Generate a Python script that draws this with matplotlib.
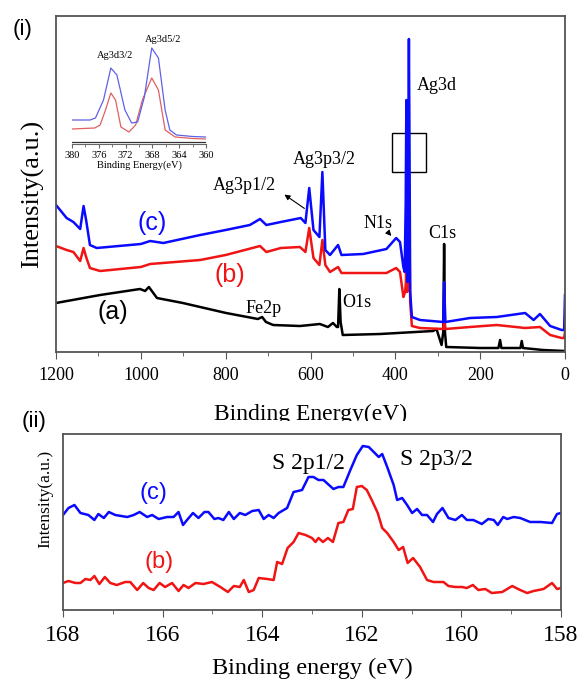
import numpy as np
import matplotlib.pyplot as plt
from matplotlib.patches import Rectangle
from matplotlib.ticker import MultipleLocator

SERIF = ["Liberation Serif", "DejaVu Serif"]
SANS = ["Liberation Sans", "DejaVu Sans"]

# ---- (i) survey spectra: binding energy (eV) / intensity (a.u.) ----
a_be = [1200, 1096, 1002, 990, 981, 962, 901, 799, 724, 714, 705, 688, 625, 601,
        578, 559, 547, 538, 535, 532, 529, 524, 436, 311, 303, 291, 287, 285, 283,
        280, 200, 157, 153, 150, 105, 102, 99, 52, 0]
a_int = [49, 57, 63, 61, 65, 54, 49, 39, 33, 35, 30, 27, 26, 27,
         28, 25, 29, 25, 25, 63, 30, 17, 18, 21, 23, 7, 20, 108, 20,
         5, 4, 4, 12, 4, 4, 11, 4, 2, 1]

b_be = [1200, 1175, 1159, 1143, 1135, 1129, 1120, 1096, 1000, 978, 860, 800,
        719, 704, 670, 625, 612, 603, 593, 579, 572, 565, 554, 535, 527, 421,
        398, 389, 381, 377, 375, 374, 372, 368, 365, 361, 342, 287, 285, 282,
        224, 161, 94, 59, 35, 8, 2, 0]
b_int = [106, 102, 100, 91, 104, 95, 84, 81, 85, 88, 92, 97,
         106, 100, 104, 105, 100, 124, 94, 87, 112, 87, 80, 85, 79, 79,
         84, 80, 55, 60, 70, 120, 60, 180, 50, 26, 24, 23, 32, 23,
         25, 27, 24, 25, 17, 14, 14, 20]

c_be = [1200, 1175, 1159, 1143, 1135, 1129, 1120, 1104, 1000, 978, 947, 860,
        800, 743, 719, 704, 670, 623, 612, 603, 593, 579, 572, 565, 554, 535,
        527, 476, 421, 398, 389, 381, 378, 375.5, 374, 372.5, 371, 369.5, 368,
        366.5, 365, 361, 342, 287, 285, 282, 224, 161, 94, 74, 59, 35, 8, 2, 0]
c_int = [147, 134, 130, 123, 146, 132, 107, 104, 108, 111, 109, 117,
         122, 127, 133, 127, 130, 134, 129, 164, 122, 115, 180, 102, 97, 107,
         97, 98, 103, 114, 110, 85, 80, 150, 252, 150, 70, 200, 313,
         200, 60, 35, 32, 30, 70, 30, 34, 35, 39, 32, 38, 26, 22, 22, 57]

# ---- inset: Ag 3d ----
in_c_be = [380, 377.3, 376.5, 375.3, 374.2, 373.3, 372.1, 371.1, 370.2, 369.2,
           368.1, 367.1, 366.1, 365.4, 364.4, 362, 360]
in_c_int = [24, 24, 26, 44, 76, 69, 34, 21, 22, 47, 96, 86, 34, 14, 9, 7.5, 7]
in_b_be = [380, 376.6, 375.8, 375, 374.2, 373.5, 372.7, 371.5, 370.5, 369.5,
           368.1, 367.1, 366.1, 364.6, 362, 360]
in_b_int = [15, 16, 19, 34, 51, 44, 17, 12, 19, 44, 66, 54, 14, 7, 5.5, 5]
in_a_be = [380, 360]
in_a_int = [2.3, 2.3]

# ---- (ii) S 2p ----
s_c_be = [168.00, 167.89, 167.77, 167.65, 167.49, 167.37, 167.29, 167.18, 167.08,
          166.95, 166.71, 166.58, 166.46, 166.31, 166.21, 166.08, 165.91, 165.78,
          165.68, 165.59, 165.51, 165.39, 165.28, 165.16, 165.08, 164.96, 164.88,
          164.78, 164.67, 164.57, 164.45, 164.34, 164.20, 164.07, 163.97, 163.87,
          163.77, 163.67, 163.50, 163.37, 163.20, 163.07, 162.97, 162.87, 162.77,
          162.57, 162.47, 162.37, 162.23, 162.10, 161.98, 161.86, 161.76, 161.66,
          161.59, 161.49, 161.36, 161.29, 161.19, 161.09, 160.99, 160.89, 160.79,
          160.69, 160.57, 160.49, 160.38, 160.26, 160.12, 159.99, 159.89, 159.76,
          159.59, 159.46, 159.35, 159.27, 159.16, 159.08, 158.95, 158.82, 158.62,
          158.41, 158.18, 158.08, 158.00]
s_c_int = [95, 102, 105, 97, 95, 90, 96, 92, 98,
           95, 93, 95, 98, 93, 95, 91, 93, 93,
           98, 85, 90, 97, 92, 98, 98, 91, 92,
           90, 98, 91, 97, 95, 99, 100, 91, 95,
           92, 97, 102, 118, 120, 133, 133, 130, 130,
           121, 123, 123, 140, 155, 164, 163, 158, 153,
           156, 143, 125, 110, 112, 105, 97, 101, 95,
           95, 88, 96, 102, 92, 90, 95, 90, 90,
           86, 91, 90, 85, 93, 91, 93, 92, 88,
           88, 87, 96, 97]

s_b_be = [168.00, 167.89, 167.75, 167.65, 167.55, 167.45, 167.37, 167.27, 167.16,
          167.05, 166.92, 166.75, 166.65, 166.51, 166.39, 166.28, 166.18, 166.06,
          165.95, 165.81, 165.68, 165.58, 165.48, 165.34, 165.18, 165.01, 164.84,
          164.69, 164.57, 164.45, 164.37, 164.27, 164.17, 164.07, 163.90, 163.77,
          163.70, 163.60, 163.49, 163.37, 163.27, 163.13, 163.00, 162.93, 162.87,
          162.78, 162.68, 162.58, 162.47, 162.37, 162.27, 162.18, 162.10, 162.00,
          161.90, 161.80, 161.68, 161.59, 161.49, 161.36, 161.26, 161.17, 161.08,
          160.97, 160.83, 160.69, 160.56, 160.36, 160.26, 160.12, 159.99, 159.89,
          159.77, 159.66, 159.52, 159.39, 159.18, 158.98, 158.82, 158.68, 158.55,
          158.35, 158.18, 158.08, 158.00]
s_b_int = [27, 29, 27, 27, 31, 30, 34, 26, 33,
           27, 25, 28, 28, 20, 27, 22, 20, 27,
           23, 27, 19, 25, 22, 27, 26, 28, 23,
           18, 24, 23, 30, 18, 20, 32, 31, 30,
           48, 46, 62, 68, 77, 75, 72, 68, 72,
           68, 72, 68, 87, 88, 100, 101, 123, 124,
           120, 110, 97, 82, 77, 68, 60, 63, 47,
           52, 43, 30, 28, 28, 24, 23, 23, 22,
           25, 20, 21, 17, 18, 24, 20, 17, 19,
           21, 27, 21, 22]

W, H = 581, 679
BLUE = "#0a0aff"
RED = "#f01414"
SPINE = "#555555"


def px_axes(x0, y0, x1, y1):
    return [x0 / W, 1 - y1 / H, (x1 - x0) / W, (y1 - y0) / H]


fig = plt.figure(figsize=(W / 100, H / 100), dpi=100)
plt.rcParams["font.family"] = SERIF

# ==========================================================
# (i) survey
# ==========================================================
ax1 = fig.add_axes(px_axes(56, 16, 565, 352))
ax1.plot(a_be, a_int, color="black", lw=1.8)
ax1.plot(b_be, b_int, color=RED, lw=1.8)
ax1.plot(c_be, c_int, color=BLUE, lw=1.8)
ax1.set_xlim(1200, 0)
ax1.set_ylim(0, 336)
ax1.set_yticks([])
ax1.xaxis.set_major_locator(MultipleLocator(200))
ax1.xaxis.set_minor_locator(MultipleLocator(100))
ax1.tick_params(axis="x", which="major", direction="out", length=5, pad=6,
                labelsize=13, color=SPINE)
ax1.tick_params(axis="x", which="minor", direction="out", length=3, color=SPINE)
for s in ax1.spines.values():
    s.set_color(SPINE)
    s.set_linewidth(1.3)
ax1.set_xlabel("Binding Energy(eV)", fontsize=17)
ax1.xaxis.label.set_va("center")
ax1.xaxis.set_label_coords(0.5, -0.185)
ax1.set_ylabel("Intensity(a.u.)", fontsize=19)
ax1.yaxis.label.set_va("center")
ax1.yaxis.set_label_coords(-0.047, 0.47)

fs = 13
ax1.text(350, 267, "Ag3d", fontsize=fs, ha="left", va="center")
ax1.text(567, 192, "Ag3p3/2", fontsize=fs, ha="center", va="center")
ax1.text(757, 167, "Ag3p1/2", fontsize=fs, ha="center", va="center")
ax1.text(442, 129, "N1s", fontsize=fs, ha="center", va="center")
ax1.text(290, 119, "C1s", fontsize=fs, ha="center", va="center")
ax1.text(490, 50, "O1s", fontsize=fs, ha="center", va="center")
ax1.text(711, 44, "Fe2p", fontsize=fs, ha="center", va="center")
ax1.text(973, 129, "(c)", fontsize=18, color=BLUE, family=SANS, ha="center", va="center")
ax1.text(790, 77, "(b)", fontsize=18, color=RED, family=SANS, ha="center", va="center")
ax1.text(1067, 40, "(a)", fontsize=18, color="black", family=SANS, ha="center", va="center")
arrow = dict(arrowstyle="-|>", color="black", lw=0.8, mutation_scale=8)
ax1.annotate("", xy=(667, 159), xytext=(609, 142), arrowprops=arrow)
ax1.annotate("", xy=(405, 114), xytext=(422, 122), arrowprops=arrow)
ax1.add_patch(Rectangle((407, 180), -79, 39, fill=False, edgecolor="black", lw=1.0))

# inset Ag 3d
axi = fig.add_axes(px_axes(72, 30, 206, 144))
axi.plot(in_a_be, in_a_int, color="#333333", lw=0.9)
axi.plot(in_b_be, in_b_int, color="#e06060", lw=0.9)
axi.plot(in_c_be, in_c_int, color="#6060e8", lw=0.9)
axi.set_xlim(380, 360)
axi.set_ylim(0, 114)
axi.patch.set_alpha(0)
for k in ["top", "right", "left"]:
    axi.spines[k].set_visible(False)
axi.spines["bottom"].set_color("#666666")
axi.set_yticks([])
axi.xaxis.set_major_locator(MultipleLocator(4))
axi.xaxis.set_minor_locator(MultipleLocator(2))
axi.tick_params(axis="x", which="major", direction="out", length=3, pad=2,
                labelsize=7.5, color="#666666")
axi.tick_params(axis="x", which="minor", direction="out", length=2, color="#666666")
axi.set_xlabel("Binding Energy(eV)", fontsize=7.5, labelpad=0)
axi.text(373.6, 89, "Ag3d3/2", fontsize=7.5, ha="center", va="center")
axi.text(366.4, 104, "Ag3d5/2", fontsize=7.5, ha="center", va="center")

# ==========================================================
# (ii) S 2p
# ==========================================================
ax2 = fig.add_axes(px_axes(63, 434, 561, 610))
ax2.plot(s_b_be, s_b_int, color=RED, lw=1.8)
ax2.plot(s_c_be, s_c_int, color=BLUE, lw=1.8)
ax2.set_xlim(168, 158)
ax2.set_ylim(0, 176)
ax2.set_yticks([])
ax2.xaxis.set_major_locator(MultipleLocator(2))
ax2.xaxis.set_minor_locator(MultipleLocator(1))
ax2.tick_params(axis="x", which="major", direction="out", length=5, pad=6,
                labelsize=17, color=SPINE)
ax2.tick_params(axis="x", which="minor", direction="out", length=3, color=SPINE)
for s in ax2.spines.values():
    s.set_color(SPINE)
    s.set_linewidth(1.3)
ax2.set_xlabel("Binding energy (eV)", fontsize=17.5)
ax2.xaxis.label.set_va("center")
ax2.xaxis.set_label_coords(0.5, -0.33)
ax2.set_ylabel("Intensity(a.u.)", fontsize=12.6)
ax2.yaxis.label.set_va("center")
ax2.yaxis.set_label_coords(-0.036, 0.631)
ax2.text(163.07, 147, "S 2p1/2", fontsize=17, ha="center", va="center")
ax2.text(160.50, 151, "S 2p3/2", fontsize=17, ha="center", va="center")
ax2.text(166.19, 117, "(c)", fontsize=17, color=BLUE, family=SANS, ha="center", va="center")
ax2.text(166.07, 48, "(b)", fontsize=17, color=RED, family=SANS, ha="center", va="center")

# white band that cuts off the bottom of the (i) axis label, as in the original
fig.add_artist(Rectangle((150 / W, 1 - 432 / H), 320 / W, 11 / H,
                         transform=fig.transFigure, facecolor="white",
                         edgecolor="none", zorder=10))

# panel letters
fig.text(23 / W, 1 - 30 / H, "(i)", fontsize=16, family=SANS, ha="center", va="center")
fig.text(34 / W, 1 - 421 / H, "(ii)", fontsize=16, family=SANS, ha="center",
         va="center", zorder=11)

fig.savefig("out.png", dpi=100)
